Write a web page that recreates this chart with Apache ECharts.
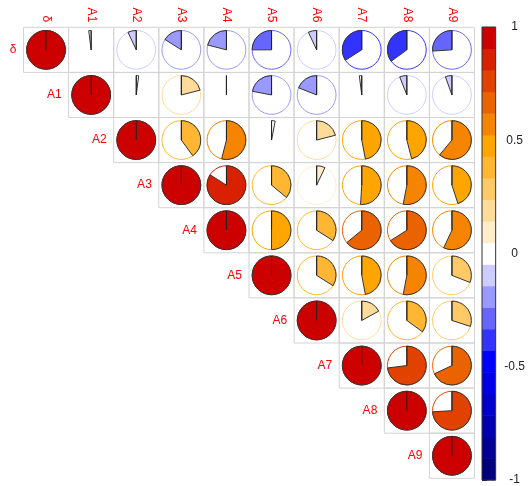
<!DOCTYPE html>
<html>
<head>
<meta charset="utf-8">
<script src="https://cdn.jsdelivr.net/npm/echarts@6/dist/echarts.min.js"></script>
<style>
  html, body { margin: 0; padding: 0; background: #fff; }
  #main { width: 528px; height: 486px; }
</style>
</head>
<body>
<div id="main"></div>
<script>
// 变量
var labels = ['δ', 'A1', 'A2', 'A3', 'A4', 'A5', 'A6', 'A7', 'A8', 'A9'];
// 上三角相关系数，每行从对角线开始
var corrRows = [
  [1, -0.02, -0.07, -0.16, -0.21, -0.25, -0.07, -0.34, -0.35, -0.26],
  [1, 0.02, 0.21, 0.00, -0.22, -0.19, -0.02, -0.06, -0.055],
  [1, 0.40, 0.54, 0.03, 0.21, 0.47, 0.46, 0.61],
  [1, 0.84, 0.36, 0.07, 0.51, 0.53, 0.45],
  [1, 0.50, 0.34, 0.64, 0.66, 0.57],
  [1, 0.34, 0.47, 0.53, 0.31],
  [1, 0.17, 0.35, 0.30],
  [1, 0.73, 0.68],
  [1, 0.74],
  [1]
];
var legendTicks = [-1, -0.5, 0, 0.5, 1];
var palette = ['#00007F', '#000099', '#0000B2', '#0000CC', '#0000E5', '#0000FF', '#3333FF', '#6666FF',
  '#9999FF', '#CCCCFF', '#FFFFFF', '#FFEDCC', '#FFDB99', '#FFC966', '#FFB733', '#FFA500', '#F58400',
  '#EB6300', '#E14200', '#D72100', '#CD0000'];

function colorOf(v) {
  var k = Math.floor((v + 1) / 2 * palette.length);
  if (k >= palette.length) k = palette.length - 1;
  if (k < 0) k = 0;
  return palette[k];
}

var cellData = [];
corrRows.forEach(function (row, i) {
  row.forEach(function (v, k) {
    cellData.push([i + k, i, v]);
  });
});

function renderCell(params, api) {
  var x = api.value(0), y = api.value(1), v = api.value(2);
  var c = api.coord([x, y]);
  var s = api.size([1, 1]);
  var rad = s[0] * 0.43;
  var col = colorOf(v);
  var start = -Math.PI / 2;
  var children = [
    {type: 'rect', shape: {x: c[0] - s[0] / 2, y: c[1] - s[1] / 2, width: s[0], height: s[1]},
      style: {fill: 'none', stroke: '#d3d3d3', lineWidth: 1}},
    {type: 'circle', shape: {cx: c[0], cy: c[1], r: rad},
      style: {fill: 'none', stroke: col, lineWidth: 1}},
    {type: 'sector', shape: {cx: c[0], cy: c[1], r: rad, r0: 0, startAngle: start,
      endAngle: start + 2 * Math.PI * v, clockwise: v >= 0},
      style: {fill: col, stroke: '#333', lineWidth: 1}},
    {type: 'line', shape: {x1: c[0], y1: c[1], x2: c[0], y2: c[1] - rad},
      style: {stroke: '#222', lineWidth: 1}}
  ];
  if (x === y) {
    children.push({type: 'text', x: c[0] - s[0] / 2 - 7, y: c[1],
      style: {text: labels[y], fill: 'red', font: '12px "Liberation Sans", Arial, sans-serif',
        align: 'right', verticalAlign: 'middle'}});
  }
  return {type: 'group', children: children};
}

function renderBin(params, api) {
  var k = api.value(0);
  var lo = -1 + k * 2 / palette.length, hi = lo + 2 / palette.length;
  var p1 = api.coord([0, hi]), p2 = api.coord([1, lo]);
  return {type: 'rect', shape: {x: p1[0], y: p1[1], width: p2[0] - p1[0], height: p2[1] - p1[1] + 0.5},
    style: {fill: palette[k], stroke: null}};
}

function renderFrame(params, api) {
  var p1 = api.coord([0, 1]), p2 = api.coord([1, -1]);
  return {type: 'rect', shape: {x: p1[0], y: p1[1], width: p2[0] - p1[0], height: p2[1] - p1[1]},
    style: {fill: 'none', stroke: '#333', lineWidth: 1}};
}

var myChart = echarts.init(document.getElementById('main'));
myChart.setOption({
  animation: false,
  grid: [
    {left: 23.5, top: 27.3, width: 451, height: 451},
    {left: 482, top: 27, width: 16, height: 453}
  ],
  xAxis: [{
    type: 'category',
    data: labels,
    position: 'top',
    axisLine: {show: false},
    axisTick: {show: false},
    splitLine: {show: false},
    axisLabel: {
      rotate: 90,
      margin: 5,
      color: 'red',
      fontSize: 12,
      fontFamily: '"Liberation Sans", Arial, sans-serif'
    }
  }, {
    type: 'value',
    gridIndex: 1,
    min: 0,
    max: 1,
    show: false
  }],
  yAxis: [{
    type: 'category',
    data: labels,
    inverse: true,
    show: false
  }, {
    type: 'value',
    gridIndex: 1,
    min: -1,
    max: 1,
    interval: 0.5,
    position: 'right',
    axisLine: {show: false},
    splitLine: {show: false},
    axisTick: {show: true, length: 5, lineStyle: {color: '#333'}},
    axisLabel: {
      margin: 19,
      align: 'center',
      color: '#222',
      fontSize: 12,
      fontFamily: '"Liberation Sans", Arial, sans-serif',
      formatter: function (v) {
        return legendTicks.indexOf(v) >= 0 ? String(v) : '';
      }
    }
  }],
  series: [{
    type: 'custom',
    xAxisIndex: 0,
    yAxisIndex: 0,
    renderItem: renderCell,
    data: cellData
  }, {
    type: 'custom',
    xAxisIndex: 1,
    yAxisIndex: 1,
    renderItem: renderBin,
    data: palette.map(function (c, k) { return [k]; })
  }, {
    type: 'custom',
    xAxisIndex: 1,
    yAxisIndex: 1,
    renderItem: renderFrame,
    data: [[0]]
  }]
});
</script>
</body>
</html>
